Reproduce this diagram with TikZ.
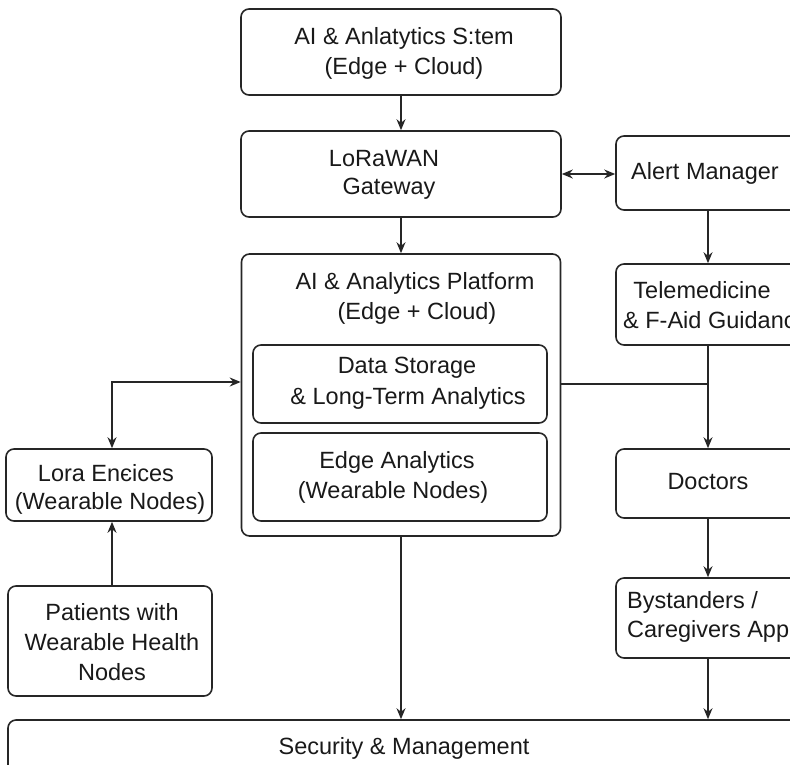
\documentclass[tikz,border=0pt]{standalone}
\usepackage{fontspec}
\setmainfont{Liberation Sans}
\usetikzlibrary{arrows.meta}
\begin{document}
\begin{tikzpicture}[x=1pt,y=-1pt,
  box/.style={draw=black!85, line width=1.6pt, rounded corners=8pt, inner sep=0pt, minimum width=#1},
  lbl/.style={inner sep=0pt, font=\fontsize{23.5}{29}\selectfont, text=black!90},
  conn/.style={draw=black!85, line width=1.5pt},
  arr/.style={conn, -{Stealth[length=11pt,width=9pt]}},
  darr/.style={conn, {Stealth[length=11pt,width=9pt]}-{Stealth[length=11pt,width=9pt]}}]
\useasboundingbox (0,0) rectangle (790,764);
\clip (0,0) rectangle (790,764);
% boxes
\node[box=320pt, minimum height=86pt] (top) at (401,52) {};
\node[box=320pt, minimum height=86pt] (gw) at (401,174) {};
\node[box=214pt, minimum height=74pt] (alert) at (723,173) {};
\node[box=319pt, minimum height=282pt] (plat) at (401,395) {};
\node[box=294pt, minimum height=78pt] (ds) at (400,384) {};
\node[box=294pt, minimum height=88pt] (ea) at (400,477) {};
\node[box=214pt, minimum height=81pt] (tele) at (723,304.5) {};
\node[box=206pt, minimum height=72pt] (lora) at (109,485) {};
\node[box=204pt, minimum height=110pt] (pat) at (110,641) {};
\node[box=214pt, minimum height=69pt] (doc) at (723,483.5) {};
\node[box=214pt, minimum height=80pt] (bys) at (723,618) {};
\node[box=822pt, minimum height=80pt] (sec) at (419,760) {};
% labels
\node[lbl] (t1) at (404,38) {AI \& Anlatytics S:tem};
\node[lbl] (t2) at (404,68) {(Edge + Cloud)};
\node[lbl] (g1) at (384,159) {LoRaWAN};
\node[lbl] (g2) at (389,189) {Gateway};
\node[lbl] (a1) at (705,173) {Alert Manager};
\node[lbl] (p1) at (415,283) {AI \& Analytics Platform};
\node[lbl] (p2) at (417,313) {(Edge + Cloud)};
\node[lbl] (d1) at (407,368) {Data Storage};
\node[lbl] (d2) at (408,398) {\& Long-Term Analytics};
\node[lbl] (e1) at (397,462) {Edge Analytics};
\node[lbl] (e2) at (393,492) {(Wearable Nodes)};
\node[lbl] (m1) at (702,290) {Telemedicine};
\node[lbl, anchor=west] (m2) at (623,320) {\& F-Aid Guidanc};
\node[lbl] (l1) at (106,473) {Lora Enєices};
\node[lbl] (l2) at (110,503) {(Wearable Nodes)};
\node[lbl] (dc) at (708,482) {Doctors};
\node[lbl] (pa1) at (112,612) {Patients with};
\node[lbl] (pa2) at (112,642) {Wearable Health};
\node[lbl] (pa3) at (112,672) {Nodes};
\node[lbl, anchor=west] (b1) at (627,602) {Bystanders /};
\node[lbl, anchor=west] (b2) at (627,631) {Caregivers App};
\node[lbl] (s1) at (404,748) {Security \& Management};
% helper coordinates
\coordinate (cx) at (708,0);
\coordinate (lj) at (112,382);
% connectors
\draw[arr] (top.south) -- (gw.north);
\draw[arr] (gw.south) -- (plat.north);
\draw[darr] (gw.east) -- (gw.east -| alert.west);
\draw[arr] (alert.south -| cx) -- (tele.north -| cx);
\draw[arr] (tele.south -| cx) -- (doc.north -| cx);
\draw[conn] (ds.east -| plat.east) -- (ds.east -| cx);
\draw[arr] (doc.south -| cx) -- (bys.north -| cx);
\draw[arr] (bys.south -| cx) -- (sec.north -| cx);
\draw[arr] (plat.south) -- (plat.south |- sec.north);
\draw[darr] (lora.north -| lj) -- (lj) -- (lj -| plat.west);
\draw[arr] (pat.north -| lj) -- (lora.south -| lj);
\end{tikzpicture}
\end{document}
